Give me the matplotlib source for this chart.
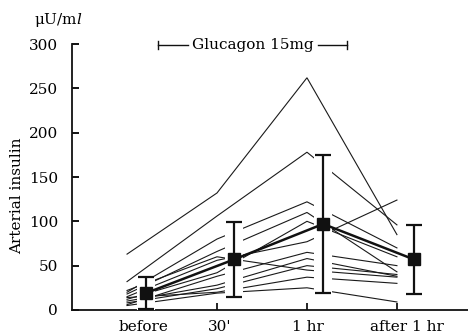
import numpy as np
import matplotlib
matplotlib.use("Agg")
import matplotlib.pyplot as plt

plt.rcParams['font.family'] = ['DejaVu Serif']
plt.rcParams['mathtext.fontset'] = 'dejavuserif'

# ---- data ----
time_labels = ["before", "30'", "1 hr", "after 1 hr"]
subjects = [
    [63, 132, 262, 85],
    [32, 106, 178, 96],
    [20, 80, 122, 70],
    [18, 66, 110, 43],
    [15, 56, 77, 124],
    [12, 42, 100, 60],
    [10, 28, 58, 38],
    [8, 24, 50, 40],
    [14, 20, 37, 30],
    [5, 19, 25, 9],
    [22, 60, 45, 37],
    [6, 38, 65, 50],
]
mean_vals = [19, 57, 97, 57]
sd_vals = [18, 42, 78, 39]
y_ticks = [0, 50, 100, 150, 200, 250, 300]

fig = plt.figure(figsize=(4.68, 3.34), dpi=100)
ax = fig.add_axes([0.154, 0.072, 0.846, 0.796])

xs = np.arange(len(time_labels))
for vals in subjects:
    ax.plot(xs, vals, color='#1a1a1a', lw=0.8, zorder=2, solid_joinstyle='miter')

mx = xs + np.array([0.21, 0.19, 0.18, 0.19])
m = np.array(mean_vals)
s = np.array(sd_vals)
# white gaps behind the error bars
ax.vlines(mx, m - s - 1, m + s, color='white', lw=13, zorder=3, clip_on=False)
ax.plot(mx, m, color='#111111', lw=1.8, zorder=4)
ax.errorbar(mx, m, yerr=s, fmt='none', ecolor='#111111', elinewidth=1.6,
            capsize=5.5, capthick=1.6, zorder=4, clip_on=False)
ax.plot(mx, m, 's', color='#111111', ms=8, zorder=5)

ax.set_xlim(-0.611, 3.79)
ax.set_ylim(0, 300)
ax.spines['right'].set_visible(False)
ax.spines['top'].set_visible(False)
for sp in ['left', 'bottom']:
    ax.spines[sp].set_linewidth(1.3)
    ax.spines[sp].set_color('#111111')

ax.set_yticks(y_ticks)
ax.set_yticklabels([str(v) for v in y_ticks])
ax.tick_params(axis='y', direction='in', length=5, width=1.3, labelsize=11, pad=10)

label_pos = xs + np.array([0.18, 0.03, 0.01, 0.11])
ax.set_xticks(label_pos)
ax.set_xticklabels(time_labels)
ax.tick_params(axis='x', which='major', length=0, labelsize=11, pad=7)
ax.set_xticks(xs[1:], minor=True)
ax.tick_params(axis='x', which='minor', direction='in', length=5, width=1.2)

ax.set_ylabel('Arterial insulin', fontsize=11)
ax.yaxis.set_label_coords(-0.12, 0.43)
fig.text(0.124, 0.94, 'μU/m$\\mathit{l}$', fontsize=11, ha='center', va='center')

# Glucagon bracket
gx0, gx1, gy = 0.344, 2.444, 299
ax.plot([gx0, 0.68], [gy, gy], color='#111111', lw=1.0, clip_on=False)
ax.plot([2.12, gx1], [gy, gy], color='#111111', lw=1.0, clip_on=False)
ax.plot([gx0, gx0], [gy - 4.5, gy + 4.5], color='#111111', lw=1.0, clip_on=False)
ax.plot([gx1, gx1], [gy - 4.5, gy + 4.5], color='#111111', lw=1.0, clip_on=False)
ax.text((0.68 + 2.12) / 2, gy, 'Glucagon 15mg', fontsize=11, ha='center', va='center')

fig.savefig('out.png', dpi=100)
